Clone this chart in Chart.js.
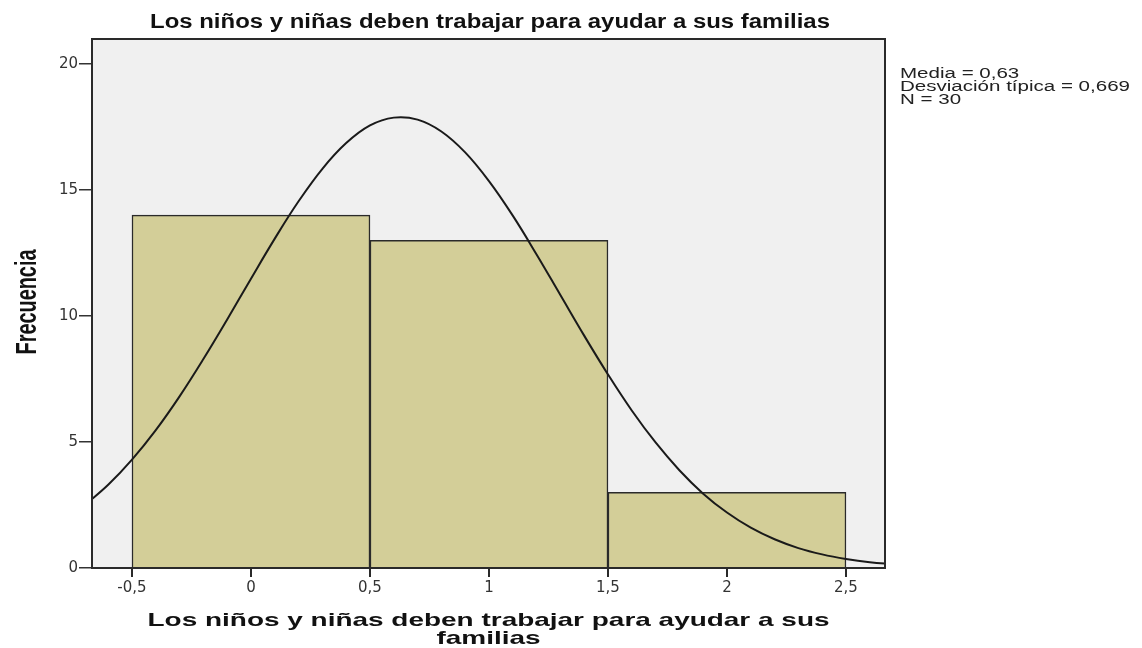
<!DOCTYPE html>
<html>
<head>
<meta charset="utf-8">
<script src="https://cdn.jsdelivr.net/npm/chart.js@4"></script>
<style>
html,body{margin:0;padding:0;background:#fff;}
#wrap{width:1142px;height:648px;position:relative;}
</style>
</head>
<body>
<div id="wrap"><canvas id="c" width="1142" height="648"></canvas></div>
<script>
// ---- data ----
const chartTitle = "Los niños y niñas deben trabajar para ayudar a sus familias";
const xTitleLines = ["Los niños y niñas deben trabajar para ayudar a sus", "familias"];
const yTitle = "Frecuencia";
const statsLines = ["Media = 0,63", "Desviación típica = 0,669", "N = 30"];

const binCenters = [0, 1, 2];
const binCounts = [14, 13, 3];

const curveX = [-0.7,-0.6,-0.5,-0.4,-0.3,-0.2,-0.1,0,0.1,0.2,0.3,0.4,0.5,0.6,0.7,0.8,0.9,1.0,1.1,1.2,1.3,1.4,1.5,1.6,1.7,1.8,1.9,2.0,2.1,2.2,2.3,2.4,2.5,2.6,2.7];
const curveY = [2.48,3.30,4.30,5.47,6.81,8.29,9.86,11.48,13.07,14.55,15.84,16.86,17.56,17.87,17.79,17.32,16.49,15.35,13.98,12.44,10.83,9.22,7.68,6.25,4.98,3.88,2.95,2.20,1.60,1.14,0.79,0.54,0.36,0.23,0.15];

const xTicks = [-0.5, 0, 0.5, 1, 1.5, 2, 2.5];
const yTicks = [0, 5, 10, 15, 20];
const xRange = [-0.668, 2.664];
const yRange = [0, 20.99];

// ---- helpers ----
function drawStretched(ctx, text, x, y, font, targetW, sy) {
  ctx.save();
  ctx.font = font;
  const w = ctx.measureText(text).width;
  ctx.translate(x, y);
  ctx.scale(targetW / w, sy || 1);
  ctx.textAlign = 'center';
  ctx.fillText(text, 0, 0);
  ctx.restore();
}

const bgPlugin = {
  id: 'bgPlugin',
  beforeDatasetsDraw(chart) {
    const {ctx, chartArea: a} = chart;
    ctx.save();
    ctx.fillStyle = '#F0F0F0';
    ctx.fillRect(a.left, a.top, a.right - a.left, a.bottom - a.top);
    ctx.restore();
  },
  afterDraw(chart) {
    const {ctx, chartArea: a} = chart;
    ctx.save();
    ctx.strokeStyle = '#2a2a2a';
    ctx.lineWidth = 2;
    ctx.strokeRect(a.left, a.top, a.right - a.left, a.bottom - a.top);
    ctx.fillStyle = '#111';
    ctx.textBaseline = 'alphabetic';
    // title
    drawStretched(ctx, chartTitle, 490, 28, 'bold 20px "Liberation Sans"', 680, 1.05);
    // x title
    const cx = (a.left + a.right) / 2;
    ctx.font = 'bold 19px "Liberation Sans"';
    const w1 = ctx.measureText(xTitleLines[0]).width;
    const sx = 682 / w1;
    drawStretched(ctx, xTitleLines[0], cx, 626, 'bold 19px "Liberation Sans"', 682);
    const w2 = ctx.measureText(xTitleLines[1]).width;
    drawStretched(ctx, xTitleLines[1], cx, 644, 'bold 19px "Liberation Sans"', w2 * sx);
    // y title
    ctx.save();
    ctx.translate(36, 302);
    ctx.rotate(-Math.PI / 2);
    ctx.font = 'bold 17px "Liberation Sans Narrow", "Liberation Sans"';
    const wy = ctx.measureText(yTitle).width;
    ctx.scale(105 / wy, 1.7);
    ctx.textAlign = 'center';
    ctx.fillText(yTitle, 0, 0);
    ctx.restore();
    // stats
    ctx.fillStyle = '#222';
    ctx.font = '14px "Liberation Sans"';
    const ws = ctx.measureText(statsLines[1]).width;
    const ss = 230 / ws;
    statsLines.forEach((s, i) => {
      ctx.save();
      ctx.translate(900, 78 + i * 13);
      ctx.scale(ss, 1);
      ctx.textAlign = 'left';
      ctx.fillText(s, 0, 0);
      ctx.restore();
    });
    ctx.restore();
  }
};

new Chart(document.getElementById('c'), {
  type: 'bar',
  data: {
    datasets: [
      {
        type: 'line',
        xAxisID: 'x',
        data: curveX.map((x, i) => ({x: x, y: curveY[i]})),
        borderColor: '#1a1a1a',
        borderWidth: 2,
        pointRadius: 0,
        tension: 0.4,
        fill: false,
        order: 0
      },
      {
        type: 'bar',
        xAxisID: 'xb',
        data: binCenters.map((x, i) => ({x: x, y: binCounts[i]})),
        backgroundColor: '#D3CE98',
        borderColor: '#2a2a2a',
        borderWidth: 1.5,
        borderSkipped: 'bottom',
        barPercentage: 1,
        categoryPercentage: 1,
        grouped: false,
        order: 1
      }
    ]
  },
  options: {
    responsive: false,
    animation: false,
    events: [],
    layout: {padding: {left: 0, right: 257, top: 39, bottom: 0}},
    plugins: {legend: {display: false}, tooltip: {enabled: false}, title: {display: false}},
    scales: {
      x: {
        type: 'linear',
        position: 'bottom',
        offset: false,
        min: xRange[0],
        max: xRange[1],
        afterBuildTicks: s => { s.ticks = xTicks.map(v => ({value: v})); },
        afterFit: s => { s.height = 80; },
        ticks: {
          autoSkip: false,
          maxRotation: 0,
          padding: 2,
          color: '#333',
          font: {family: '"DejaVu Sans"', size: 15},
          callback: v => String(v).replace('.', ',')
        },
        grid: {offset: false, drawOnChartArea: false, drawTicks: true, tickLength: 9, color: '#2a2a2a', lineWidth: 2},
        border: {display: true, color: '#2a2a2a', width: 2}
      },
      xb: {
        type: 'linear',
        display: false,
        offset: false,
        min: xRange[0],
        max: xRange[1],
        grid: {offset: false},
        afterBuildTicks: s => { s.ticks = binCenters.map(v => ({value: v})); }
      },
      y: {
        type: 'linear',
        min: yRange[0],
        max: yRange[1],
        afterBuildTicks: s => { s.ticks = yTicks.map(v => ({value: v})); },
        afterFit: s => { s.width = 92; },
        ticks: {
          padding: 1,
          color: '#333',
          font: {family: '"DejaVu Sans"', size: 15},
          callback: v => String(v)
        },
        grid: {drawOnChartArea: false, drawTicks: true, tickLength: 13, color: '#333', lineWidth: 1.5},
        border: {display: true, color: '#2a2a2a', width: 2}
      }
    }
  },
  plugins: [bgPlugin]
});
</script>
</body>
</html>
